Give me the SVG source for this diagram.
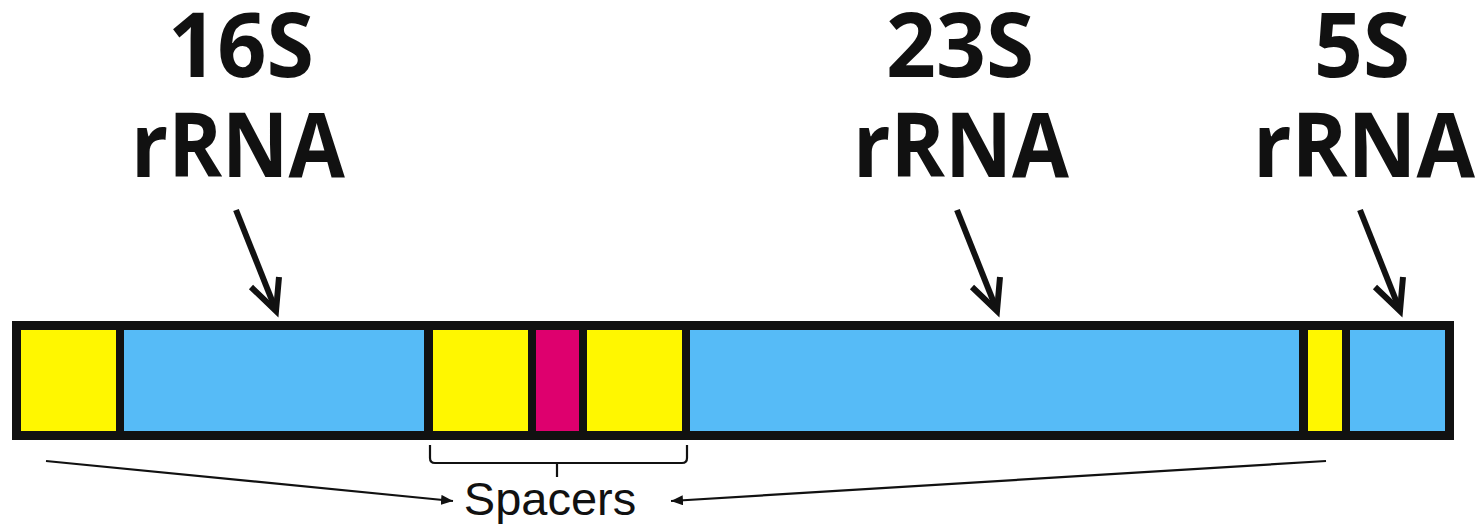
<svg xmlns="http://www.w3.org/2000/svg" width="1478" height="524" viewBox="0 0 1478 524">
  <defs>
    <style>
      .title { font-family: "Open Sans", "Liberation Sans", sans-serif; font-weight: 700; font-size: 90px; fill: #111; }
      .label { font-family: "Liberation Sans", Arial, sans-serif; font-size: 47px; fill: #111; }
      .yellow { fill: #FFF700; }
      .blue { fill: #56BBF7; }
      .magenta { fill: #DE006E; }
      .pointer { fill: none; stroke: #111; stroke-width: 6; stroke-linecap: butt; stroke-linejoin: miter; }
      .thin { fill: none; stroke: #111; stroke-width: 2.2; }
    </style>
    <marker id="head" viewBox="0 0 12 10" refX="12" refY="5" markerWidth="12" markerHeight="10" markerUnits="userSpaceOnUse" orient="auto">
      <path d="M0,0 L12,5 L0,10 Z" fill="#111"/>
    </marker>
  </defs>
  <rect width="1478" height="524" fill="#fff"/>

  <!-- operon bar: black frame with coloured segments -->
  <g id="operon">
    <rect x="12" y="321" width="1442" height="119" fill="#111"/>
    <rect class="yellow" x="21" y="330" width="95" height="101"/>
    <rect class="blue" x="124" y="330" width="300" height="101"/>
    <rect class="yellow" x="433" y="330" width="95" height="101"/>
    <rect class="magenta" x="536" y="330" width="43" height="101"/>
    <rect class="yellow" x="587" y="330" width="95" height="101"/>
    <rect class="blue" x="690" y="330" width="609" height="101"/>
    <rect class="yellow" x="1308" y="330" width="34" height="101"/>
    <rect class="blue" x="1350" y="330" width="95" height="101"/>
  </g>

  <!-- gene labels -->
  <g id="label-16S">
    <text class="title" x="241" y="77" text-anchor="middle" textLength="146" lengthAdjust="spacingAndGlyphs">16S</text>
    <text class="title" x="238" y="177" text-anchor="middle" textLength="214" lengthAdjust="spacingAndGlyphs">rRNA</text>
  </g>
  <g id="label-23S">
    <text class="title" x="960" y="77" text-anchor="middle" textLength="148" lengthAdjust="spacingAndGlyphs">23S</text>
    <text class="title" x="961" y="177" text-anchor="middle" textLength="216" lengthAdjust="spacingAndGlyphs">rRNA</text>
  </g>
  <g id="label-5S">
    <text class="title" x="1362" y="77" text-anchor="middle" textLength="96" lengthAdjust="spacingAndGlyphs">5S</text>
    <text class="title" x="1364" y="177" text-anchor="middle" textLength="222" lengthAdjust="spacingAndGlyphs">rRNA</text>
  </g>
  <g id="label-spacers">
    <text class="label" x="550" y="515" text-anchor="middle">Spacers</text>
  </g>

  <!-- connectors -->
  <g id="connectors">
    <!-- pointers from gene names down to the bar -->
    <path class="pointer" d="M236,210 L275,308"/>
    <path class="pointer" d="M251,287 L276,311 L279,277"/>
    <path class="pointer" d="M957,210 L996,308"/>
    <path class="pointer" d="M972,287 L997,311 L1000,277"/>
    <path class="pointer" d="M1360,210 L1399,308"/>
    <path class="pointer" d="M1375,287 L1400,311 L1403,277"/>

    <!-- bracket under the central spacers -->
    <path class="thin" d="M430,445 L430,458 Q430,463 435,463 L682,463 Q687,463 687,458 L687,445 M557,463 L557,477"/>

    <!-- arrows from the outer spacers to the label -->
    <line class="thin" x1="46" y1="461" x2="453" y2="501" marker-end="url(#head)"/>
    <line class="thin" x1="1326" y1="461" x2="671" y2="501" marker-end="url(#head)"/>
  </g>
</svg>
